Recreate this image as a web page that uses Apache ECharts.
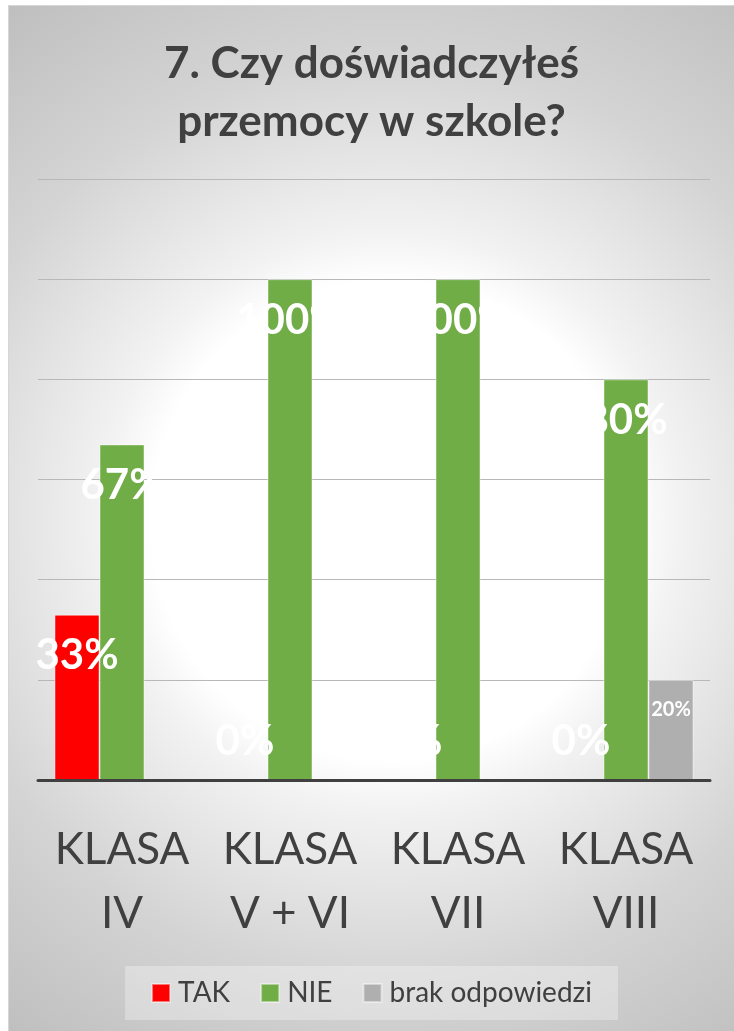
<!DOCTYPE html>
<html>
<head>
<meta charset="utf-8">
<script src="https://cdn.jsdelivr.net/npm/echarts@6/dist/echarts.min.js"></script>
<style>
html,body{margin:0;padding:0;background:#ffffff;}
#c{position:absolute;left:8px;top:5px;width:726px;height:1026px;box-sizing:border-box;border-left:1px solid #d6d6d6;border-top:1px solid #d6d6d6;}
</style>
</head>
<body>
<div id="c"></div>
<script>
const categories = ['KLASA\nIV', 'KLASA\nV + VI', 'KLASA\nVII', 'KLASA\nVIII'];
const seriesNames = ['TAK', 'NIE', 'brak odpowiedzi'];
const takValues = [33, 0, 0, 0];
const nieValues = [67, 100, 100, 80];
const brakValues = [0, 0, 0, 20];
const yTicks = [0, 20, 40, 60, 80, 100, 120];

const colors = ['#ff0000', '#70ad47', '#afafaf'];
const FONT = 'Lato, "Open Sans", sans-serif';
const BORDER = 'rgba(255,255,255,0.45)';

function bigLabelData(values) {
  return values.map(v => v === 0
    ? { value: v, label: { position: 'insideBottom', distance: 18 }, itemStyle: { borderWidth: 0 } }
    : { value: v });
}
function smallLabelData(values) {
  return values.map(v => v === 0
    ? { value: v, label: { show: false }, itemStyle: { borderWidth: 0 } }
    : { value: v });
}

const chart = echarts.init(document.getElementById('c'), null, { renderer: 'canvas' });
const bigLabel = {
  show: true, position: 'insideTop', distance: 20,
  formatter: p => p.value + '%',
  color: '#ffffff', fontFamily: FONT, fontWeight: 'bold', fontSize: 42
};
chart.setOption({
  backgroundColor: {
    type: 'radial', x: 0.526, y: 0.502, r: 0.8815,
    colorStops: [
      { offset: 0, color: '#ffffff' },
      { offset: 0.375, color: '#ffffff' },
      { offset: 0.453, color: '#f2f2f2' },
      { offset: 0.72, color: '#d4d4d4' },
      { offset: 1, color: '#bfbfbf' }
    ]
  },
  animation: false,
  title: {
    text: '7. Czy doświadczyłeś\nprzemocy w szkole?',
    left: 'center', top: 24,
    textStyle: { fontFamily: FONT, fontWeight: 'bold', fontSize: 44, lineHeight: 58, color: '#404040' }
  },
  legend: {
    data: seriesNames,
    bottom: 11, left: 'center',
    itemWidth: 18, itemHeight: 18, itemGap: 30,
    padding: [13, 26],
    backgroundColor: 'rgba(255,255,255,0.3)',
    icon: 'rect',
    textStyle: { fontFamily: FONT, fontSize: 28, color: '#404040', padding: [0, 0, 0, 3] }
  },
  grid: { left: 29, right: 24, top: 173, bottom: 251, containLabel: false },
  xAxis: {
    type: 'category', data: categories, z: 5,
    axisLine: { lineStyle: { color: '#404040', width: 3 } },
    axisTick: { show: false },
    axisLabel: { fontFamily: FONT, fontWeight: 'normal', fontSize: 44, lineHeight: 64, color: '#404040', margin: 38, interval: 0 }
  },
  yAxis: {
    type: 'value', min: yTicks[0], max: yTicks[yTicks.length - 1], interval: 20,
    axisLabel: { show: false }, axisLine: { show: false }, axisTick: { show: false },
    splitLine: { lineStyle: { color: '#b8b8b8', width: 1 } }
  },
  series: [
    { name: seriesNames[0], type: 'bar', data: bigLabelData(takValues), barWidth: 45, barGap: '0%',
      itemStyle: { color: colors[0], borderColor: BORDER, borderWidth: 1 }, label: bigLabel },
    { name: seriesNames[1], type: 'bar', data: bigLabelData(nieValues), barWidth: 45, barGap: '0%',
      itemStyle: { color: colors[1], borderColor: BORDER, borderWidth: 1 }, label: bigLabel },
    { name: seriesNames[2], type: 'bar', data: smallLabelData(brakValues), barWidth: 45, barGap: '0%',
      itemStyle: { color: colors[2], borderColor: BORDER, borderWidth: 1 },
      label: { show: true, position: 'insideTop', distance: 20, formatter: p => p.value + '%',
        color: '#ffffff', fontFamily: FONT, fontWeight: 'bold', fontSize: 20 } }
  ]
});
</script>
</body>
</html>
